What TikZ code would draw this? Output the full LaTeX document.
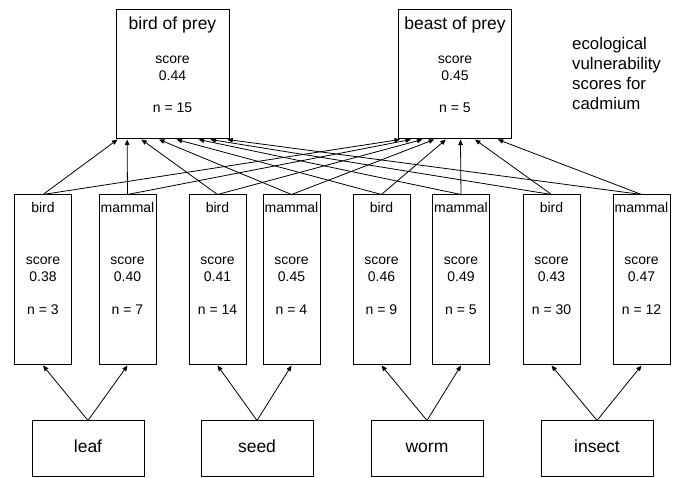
\documentclass[tikz,border=0pt]{standalone}
\usepackage{fontspec}
\setmainfont{Liberation Sans}
\usetikzlibrary{arrows.meta,calc}
\begin{document}
\begin{tikzpicture}[x=1pt,y=-1pt,
  box/.style={draw, line width=1pt, inner sep=0pt},
  topbox/.style={box, minimum width=113pt, minimum height=129pt},
  midbox/.style={box, minimum width=57pt, minimum height=170pt},
  botbox/.style={box, minimum width=112pt, minimum height=56pt},
  big/.style={anchor=base, inner sep=0pt, font=\fontsize{17.5}{20}\selectfont},
  small/.style={anchor=base, inner sep=0pt, font=\fontsize{14}{16}\selectfont},
  notetext/.style={anchor=base west, inner sep=0pt, font=\fontsize{16.8}{20}\selectfont},
  conn/.style={line width=0.8pt, -{Triangle[length=5.5pt,width=4.5pt]}}
]
\useasboundingbox (0,0) rectangle (673,478);

% top boxes
\node[topbox] (bop) at (172.5,74.5) {};
\node[topbox] (bep) at (455,74.5) {};
\node[big] (bopt) at (172.5,29.5) {bird of prey};
\node[small] (bops) at (172.5,64) {score};
\node[small] (bopv) at (172.5,81) {0.44};
\node[small] (bopn) at (172.5,113) {n = 15};
\node[big] (bept) at (455,29.5) {beast of prey};
\node[small] (beps) at (455,64) {score};
\node[small] (bepv) at (455,81) {0.45};
\node[small] (bepn) at (455,113) {n = 5};

% side note
\node[notetext] (note1) at (572,49.5) {ecological};
\node[notetext] (note2) at (572,69.5) {vulnerability};
\node[notetext] (note3) at (572,89.5) {scores for};
\node[notetext] (note4) at (572,109.5) {cadmium};

% middle boxes
\foreach \i/\x/\t/\v/\n in {1/43/bird/0.38/3, 2/127.5/mammal/0.40/7, 3/217.5/bird/0.41/14, 4/291.5/mammal/0.45/4,
                            5/381.5/bird/0.46/9, 6/461/mammal/0.49/5, 7/551.5/bird/0.43/30, 8/641.5/mammal/0.47/12}{
  \node[midbox] (m\i) at (\x,280) {};
  \node[small] (m\i t) at (\x,212.7) {\t};
  \node[small] (m\i s) at (\x,265) {score};
  \node[small] (m\i v) at (\x,281.7) {\v};
  \node[small] (m\i n) at (\x,314.3) {n = \n};
}

% bottom boxes
\foreach \name/\x/\t in {leaf/88/leaf, seed/257/seed, worm/427/worm, insect/597/insect}{
  \node[botbox] (\name) at (\x,449) {};
  \node[big] (\name t) at (\x,452.7) {\t};
}

% arrows from food to consumers
\draw[conn] (leaf.north) -- (m1.south);
\draw[conn] (leaf.north) -- (m2.south);
\draw[conn] (seed.north) -- (m3.south);
\draw[conn] (seed.north) -- (m4.south);
\draw[conn] (worm.north) -- (m5.south);
\draw[conn] (worm.north) -- (m6.south);
\draw[conn] (insect.north) -- (m7.south);
\draw[conn] (insect.north) -- (m8.south);

% arrows to predators
\foreach \i/\f in {1/0.018, 2/0.102, 3/0.227, 4/0.381, 5/0.536, 6/0.729, 7/0.832, 8/0.98}{
  \draw[conn] (m\i.north) -- ($(bop.south west)!\f!(bop.south east)$);
}
\foreach \i/\f in {1/0.018, 2/0.114, 3/0.214, 4/0.318, 5/0.42, 6/0.548, 7/0.675, 8/0.875}{
  \draw[conn] (m\i.north) -- ($(bep.south west)!\f!(bep.south east)$);
}
\end{tikzpicture}
\end{document}
